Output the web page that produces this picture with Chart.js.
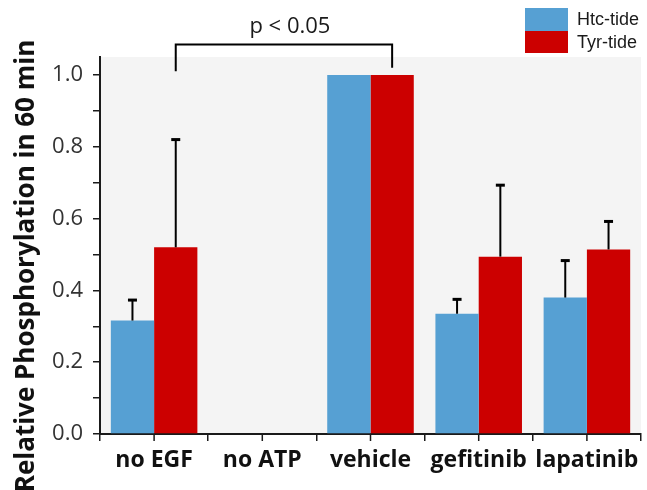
<!DOCTYPE html>
<html>
<head>
<meta charset="utf-8">
<script src="https://cdn.jsdelivr.net/npm/chart.js@4"></script>
<style>
  html, body { margin: 0; padding: 0; background: #fff; }
  #wrap { width: 647px; height: 490px; }
</style>
</head>
<body>
<div id="wrap"><canvas id="chart"></canvas></div>
<script>
// data
const categories = ['no EGF', 'no ATP', 'vehicle', 'gefitinib', 'lapatinib'];
const seriesNames = ['Htc-tide', 'Tyr-tide'];
const htcValues = [0.316, 0, 1.0, 0.335, 0.38];
const tyrValues = [0.52, 0, 1.0, 0.494, 0.514];
const htcErrors = [0.057, 0, 0, 0.04, 0.103];
const tyrErrors = [0.30, 0, 0, 0.199, 0.078];
const yTickLabels = [0, 0.2, 0.4, 0.6, 0.8, 1.0];
const yMinorTicks = [0.1, 0.3, 0.5, 0.7, 0.9];
const yTitle = 'Relative Phosphorylation in 60 min';
const pLabel = 'p < 0.05';

const BLUE = '#56a0d3';
const RED = '#cc0000';
const INK = '#1a1a1a';

const figurePlugin = {
  id: 'figure',
  beforeDraw(chart) {
    const { ctx, chartArea: a } = chart;
    ctx.save();
    ctx.fillStyle = '#f4f4f4';
    ctx.fillRect(a.left, a.top, a.right - a.left, a.bottom - a.top);
    ctx.restore();
  },
  afterDatasetsDraw(chart) {
    const { ctx } = chart;
    const y = chart.scales.y;
    const errs = [htcErrors, tyrErrors];
    ctx.save();
    ctx.strokeStyle = '#000';
    [0, 1].forEach(function(d) {
      const meta = chart.getDatasetMeta(d);
      const vals = chart.data.datasets[d].data;
      meta.data.forEach(function(bar, i) {
        const e = errs[d][i];
        if (!e) return;
        const y0 = y.getPixelForValue(vals[i]);
        const y1 = y.getPixelForValue(vals[i] + e);
        ctx.lineWidth = 2;
        ctx.beginPath();
        ctx.moveTo(bar.x, y0);
        ctx.lineTo(bar.x, y1);
        ctx.stroke();
        ctx.lineWidth = 3;
        ctx.beginPath();
        ctx.moveTo(bar.x - 4.5, y1);
        ctx.lineTo(bar.x + 4.5, y1);
        ctx.stroke();
      });
    });
    ctx.restore();
  },
  afterDraw(chart) {
    const { ctx, chartArea: a } = chart;
    const x = chart.scales.x;
    const y = chart.scales.y;
    ctx.save();

    // tick marks at category centres
    ctx.strokeStyle = INK;
    ctx.lineWidth = 1.5;
    categories.forEach(function(c, i) {
      const px = x.getPixelForValue(i);
      ctx.beginPath();
      ctx.moveTo(px, a.bottom);
      ctx.lineTo(px, a.bottom + 7);
      ctx.stroke();
    });

    // significance bracket
    const tyrMeta = chart.getDatasetMeta(1);
    const xl = tyrMeta.data[0].x;
    const xr = tyrMeta.data[2].x;
    const top = y.getPixelForValue(1.085);
    ctx.strokeStyle = '#000';
    ctx.lineWidth = 2;
    ctx.beginPath();
    ctx.moveTo(xl, y.getPixelForValue(1.01));
    ctx.lineTo(xl, top);
    ctx.lineTo(xr, top);
    ctx.lineTo(xr, y.getPixelForValue(1.02));
    ctx.stroke();
    ctx.fillStyle = INK;
    ctx.font = '22px "Open Sans"';
    ctx.textAlign = 'center';
    ctx.textBaseline = 'alphabetic';
    ctx.fillText(pLabel, (xl + xr) / 2 + 6, 33);

    // legend
    ctx.fillStyle = BLUE;
    ctx.fillRect(525, 8, 43, 23);
    ctx.fillStyle = RED;
    ctx.fillRect(525, 31, 43, 22);
    ctx.fillStyle = INK;
    ctx.font = '18px "Liberation Sans"';
    ctx.textAlign = 'left';
    ctx.textBaseline = 'middle';
    ctx.fillText(seriesNames[0], 577, 20);
    ctx.fillText(seriesNames[1], 577, 43);

    // y axis title
    ctx.translate(34, 266);
    ctx.rotate(-Math.PI / 2);
    ctx.font = 'bold 26px "Open Sans"';
    ctx.textAlign = 'center';
    ctx.textBaseline = 'alphabetic';
    ctx.fillStyle = '#111';
    ctx.fillText(yTitle, 0, 0);
    ctx.restore();
  }
};

const ctx = document.getElementById('chart').getContext('2d');
new Chart(ctx, {
  type: 'bar',
  data: {
    labels: categories,
    datasets: [
      { label: seriesNames[0], data: htcValues, backgroundColor: BLUE, borderWidth: 0 },
      { label: seriesNames[1], data: tyrValues, backgroundColor: RED, borderWidth: 0 }
    ]
  },
  options: {
    responsive: true,
    maintainAspectRatio: false,
    animation: false,
    layout: { padding: { left: 0, right: 6, top: 57, bottom: 0 } },
    datasets: { bar: { categoryPercentage: 0.8, barPercentage: 1.0 } },
    plugins: {
      legend: { display: false },
      tooltip: { enabled: false }
    },
    scales: {
      x: {
        offset: true,
        afterFit: function(scale) { scale.height = 56; },
        border: { color: INK, width: 2 },
        grid: { offset: true, drawOnChartArea: false, tickLength: 7, color: INK, lineWidth: 1.5 },
        ticks: {
          color: '#111',
          padding: 6,
          maxRotation: 0,
          autoSkip: false,
          font: { family: 'Open Sans', size: 23, weight: 'bold' }
        }
      },
      y: {
        min: 0,
        max: 1.05,
        afterFit: function(scale) { scale.width = 100; },
        afterBuildTicks: function(scale) {
          scale.ticks = yTickLabels.concat(yMinorTicks)
            .sort(function(p, q) { return p - q; })
            .map(function(v) { return { value: v }; });
        },
        border: { color: INK, width: 2 },
        grid: { drawOnChartArea: false, tickLength: 7, color: INK, lineWidth: 1.5 },
        ticks: {
          padding: 10,
          color: '#333',
          font: { family: 'Open Sans', size: 22 },
          callback: function(v) {
            const hit = yTickLabels.some(function(t) { return Math.abs(t - v) < 1e-6; });
            return hit ? v.toFixed(1) : '';
          }
        }
      }
    }
  },
  plugins: [figurePlugin]
});
</script>
</body>
</html>
